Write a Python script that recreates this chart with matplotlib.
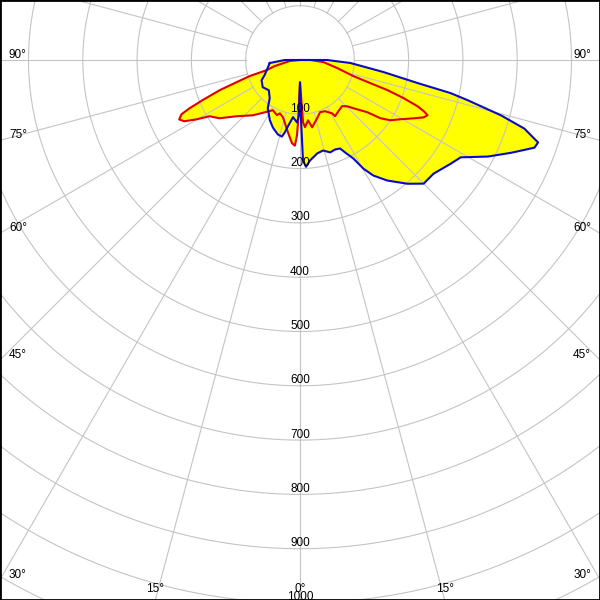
import numpy as np
import matplotlib
matplotlib.use("Agg")
import matplotlib.pyplot as plt

# 1 - DATA (gamma in degrees from nadir, intensity in cd)
blue_gamma = [-84.3, -90, 0, 90, 90, 86.6, 81.8, 78.9, 77.6, 76.5, 74.6, 73.0, 70.9, 69.5,
              66.3, 62.8, 58.8, 55.5, 49.6, 45.0, 41.0, 35.9, 32.4, 30.3, 28.4, 26.1, 24.4,
              21.5, 18.1, 14.3, 10.4, 5.7, 3.2, 1.7, 1.0, 0, -1.0, -2.8, -7.0, -10.3, -11.8,
              -13.3, -16.6, -21.9, -26.6, -33.7, -38.3, -45.9, -53.9, -62.2, -66.8, -73.1]
blue_cd = [56, 28, 0, 28, 50, 93, 155, 221, 284, 318, 384, 432, 464, 461,
           425, 389, 346, 337, 323, 322, 302, 274, 252, 232, 206, 190, 179,
           177, 179, 172, 175, 186, 197, 185, 111, 41, 102, 115, 106, 124, 136,
           145, 143, 134, 124, 107, 90, 80, 85, 80, 71, 64]

red_gamma = [0, -84.3, -76.5, -73.1, -72.3, -70.7, -69.4, -67.6, -66.4, -65.4, -63.8, -62.1,
             -60.2, -58.1, -54.1, -48.4, -40.5, -33.9, -28.4, -22.7, -20.7, -16.6, -9.5,
             -5.5, -3.4, -2.3, -1.8, 0, 2.8, 4.3, 7.6, 10.2, 16.3, 21.0, 26.1, 31.1, 32.0,
             36.7, 42.4, 45.6, 47.8, 52.2, 54.1, 56.3, 59.5, 62.8, 65.1, 66.6, 67.5, 68.5,
             69.8, 71.0, 71.8, 73.2, 77.8, 85.0, 90]
red_cd = [0, 19, 48, 64, 97, 124, 158, 194, 222, 240, 248, 241,
          220, 196, 183, 156, 134, 116, 105, 110, 105, 110, 135,
          154, 158, 139, 115, 41, 115, 124, 112, 126, 112, 103, 105, 115, 122,
          118, 115, 122, 132, 157, 183, 200, 215, 235, 251, 256, 247, 233,
          203, 170, 136, 103, 70, 43, 19]

ring_values = [100, 200, 300, 400, 500, 600, 700, 800, 900, 1000]
angle_labels = [90, 75, 60, 45, 30, 15, 0]

# 2 - SETUP
px = 1 / 0.543          # data units per pixel
x_edge = 300 * px
y_top = 60 * px
y_bot = -540 * px


def to_xy(gamma, cd):
    g = np.radians(gamma)
    cd = np.asarray(cd, dtype=float)
    return cd * np.sin(g), -cd * np.cos(g)


fig = plt.figure(figsize=(6, 6), dpi=100)
ax = fig.add_axes([0, 0, 1, 1])
ax.set_xlim(-x_edge, x_edge)
ax.set_ylim(y_bot, y_top)
ax.set_xticks([])
ax.set_yticks([])
for s in ax.spines.values():
    s.set_linewidth(2)
    s.set_color("black")
    s.set_zorder(10)

font = dict(family="Liberation Sans", fontsize=8.5, color="black")

# 3 - CURVES (fill first, grid on top of it)
bx, by = to_xy(blue_gamma, blue_cd)
rx, ry = to_xy(red_gamma, red_cd)
ax.fill(bx, by, color="#ffff00", lw=0, zorder=1)
ax.fill(rx, ry, color="#ffff00", lw=0, zorder=1)

# grid
t = np.linspace(0, 2 * np.pi, 721)
grid_col = "#c4c4c4"
for r in range(100, 1300, 100):
    ax.plot(r * np.sin(t), -r * np.cos(t), color=grid_col, lw=0.8, zorder=2)
for a in range(0, 360, 15):
    gx, gy = to_xy([a, a], [100, 1400])
    ax.plot(gx, gy, color=grid_col, lw=0.8, zorder=2)

ax.plot(np.append(rx, rx[0]), np.append(ry, ry[0]), color="#e00000", lw=1.5, zorder=3)
ax.plot(np.append(bx, bx[0]), np.append(by, by[0]), color="#0a0ac8", lw=1.5, zorder=4)

# 4 - LABELS
for v in ring_values:
    ax.text(0, -v + 2.5 * px, str(v), ha="center", va="baseline", zorder=5, **font)

for a in angle_labels:
    for sign in (-1, 1):
        if a == 0 and sign == 1:
            continue
        g = np.radians(sign * a)
        dx, dy = np.sin(g), -np.cos(g)
        # where the spoke leaves the frame
        t_side = x_edge / abs(dx) if abs(dx) > 1e-9 else np.inf
        t_bot = y_bot / dy if dy < 0 else np.inf
        if t_side <= t_bot:
            hy = t_side * dy
            if sign < 0:
                ax.text(-x_edge + 9 * px, hy + 2 * px, f"{a}°", ha="left", va="baseline", zorder=5, **font)
            else:
                ax.text(x_edge - 9 * px, hy + 2 * px, f"{a}°", ha="right", va="baseline", zorder=5, **font)
        else:
            hx = t_bot * dx
            ax.text(hx, y_bot + 7.5 * px, f"{a}°", ha="center", va="baseline", zorder=5, **font)

plt.savefig("out.png", dpi=100)
plt.close()
